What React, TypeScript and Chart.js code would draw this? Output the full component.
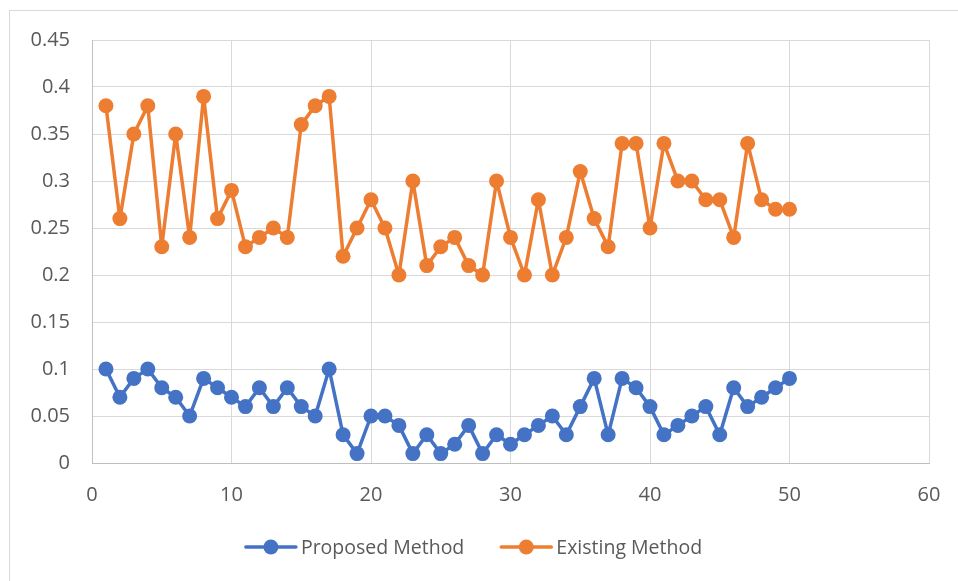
import React, { useEffect, useRef } from "react";
import { Chart, registerables } from "chart.js";

Chart.register(...registerables);

const runs = [1,2,3,4,5,6,7,8,9,10,11,12,13,14,15,16,17,18,19,20,21,22,23,24,25,26,27,28,29,30,31,32,33,34,35,36,37,38,39,40,41,42,43,44,45,46,47,48,49,50];
const proposed = [0.10,0.07,0.09,0.10,0.08,0.07,0.05,0.09,0.08,0.07,0.06,0.08,0.06,0.08,0.06,0.05,0.10,0.03,0.01,0.05,0.05,0.04,0.01,0.03,0.01,0.02,0.04,0.01,0.03,0.02,0.03,0.04,0.05,0.03,0.06,0.09,0.03,0.09,0.08,0.06,0.03,0.04,0.05,0.06,0.03,0.08,0.06,0.07,0.08,0.09];
const existing = [0.38,0.26,0.35,0.38,0.23,0.35,0.24,0.39,0.26,0.29,0.23,0.24,0.25,0.24,0.36,0.38,0.39,0.22,0.25,0.28,0.25,0.20,0.30,0.21,0.23,0.24,0.21,0.20,0.30,0.24,0.20,0.28,0.20,0.24,0.31,0.26,0.23,0.34,0.34,0.25,0.34,0.30,0.30,0.28,0.28,0.24,0.34,0.28,0.27,0.27];
const seriesNames = ["Proposed Method", "Existing Method"];
const seriesColors = ["#4472C4", "#ED7D31"];

const FONT = "'Open Sans', sans-serif";
const TEXT = "#595959";

const legendPlugin = {
  id: "excelLegend",
  afterDraw(chart: any) {
    const ctx = chart.ctx;
    ctx.save();
    ctx.font = `19.5px ${FONT}`;
    ctx.textBaseline = "middle";
    const lineLen = 50;
    const gap = 5;
    const itemGap = 37;
    const items = chart.data.datasets.map((d: any) => ({
      label: d.label,
      color: d.borderColor,
      w: lineLen + gap + ctx.measureText(d.label).width,
    }));
    const total = items.reduce((s: number, it: any) => s + it.w, 0) + itemGap * (items.length - 1);
    let x = 474 - total / 2;
    const y = 547;
    for (const it of items) {
      ctx.strokeStyle = it.color;
      ctx.lineWidth = 3.5;
      ctx.lineCap = "round";
      ctx.beginPath();
      ctx.moveTo(x, y);
      ctx.lineTo(x + lineLen, y);
      ctx.stroke();
      ctx.fillStyle = it.color;
      ctx.beginPath();
      ctx.arc(x + lineLen / 2, y, 7.5, 0, Math.PI * 2);
      ctx.fill();
      ctx.fillStyle = TEXT;
      ctx.textAlign = "left";
      ctx.fillText(it.label, x + lineLen + gap, y + 1);
      x += it.w + itemGap;
    }
    ctx.restore();
  },
};

export default function App() {
  const ref = useRef<HTMLCanvasElement | null>(null);
  useEffect(() => {
    if (!ref.current) return;
    const mk = (vals: number[], i: number) => ({
      label: seriesNames[i],
      data: runs.map((r, k) => ({ x: r, y: vals[k] })),
      borderColor: seriesColors[i],
      backgroundColor: seriesColors[i],
      borderWidth: 3.5,
      borderJoinStyle: "round" as const,
      borderCapStyle: "round" as const,
      pointRadius: 7.5,
      pointHoverRadius: 7.5,
      pointBorderWidth: 0,
      tension: 0,
    });
    const chart = new Chart(ref.current, {
      type: "line",
      data: { datasets: [mk(proposed, 0), mk(existing, 1)] },
      options: {
        animation: false,
        responsive: false,
        maintainAspectRatio: false,
        layout: { padding: { left: 0, top: 40, right: 29, bottom: 68 } },
        plugins: { legend: { display: false }, tooltip: { enabled: false } },
        scales: {
          x: {
            type: "linear",
            min: 0,
            max: 60,
            afterFit: (s: any) => { s.height = 50; s.paddingRight = 0; s.paddingLeft = 0; },
            ticks: { stepSize: 10, padding: 20, color: TEXT, font: { family: FONT, size: 20 } },
            grid: { color: "#d9d9d9", lineWidth: 1, drawTicks: false },
            border: { display: true, color: "#bfbfbf", width: 1 },
          },
          y: {
            min: 0,
            max: 0.45,
            afterFit: (s: any) => { s.width = 92; s.paddingTop = 0; s.paddingBottom = 0; },
            ticks: { stepSize: 0.05, padding: 22, color: TEXT, font: { family: FONT, size: 20 },
              callback: (v: any) => String(Math.round(Number(v) * 100) / 100) },
            grid: { color: "#d9d9d9", lineWidth: 1, drawTicks: false },
            border: { display: true, color: "#bfbfbf", width: 1 },
          },
        },
      },
      plugins: [legendPlugin],
    });
    return () => chart.destroy();
  }, []);
  return (
    <div style={{ position: "fixed", left: 0, top: 0, width: 958, height: 581, background: "#fff", overflow: "hidden" }}>
      <div style={{ position: "absolute", left: 9, top: 10, width: 1000, height: 600, borderLeft: "1px solid #d9d9d9", borderTop: "1px solid #d9d9d9" }} />
      <canvas ref={ref} width={958} height={581} style={{ position: "absolute", left: 0, top: 0 }} />
    </div>
  );
}
